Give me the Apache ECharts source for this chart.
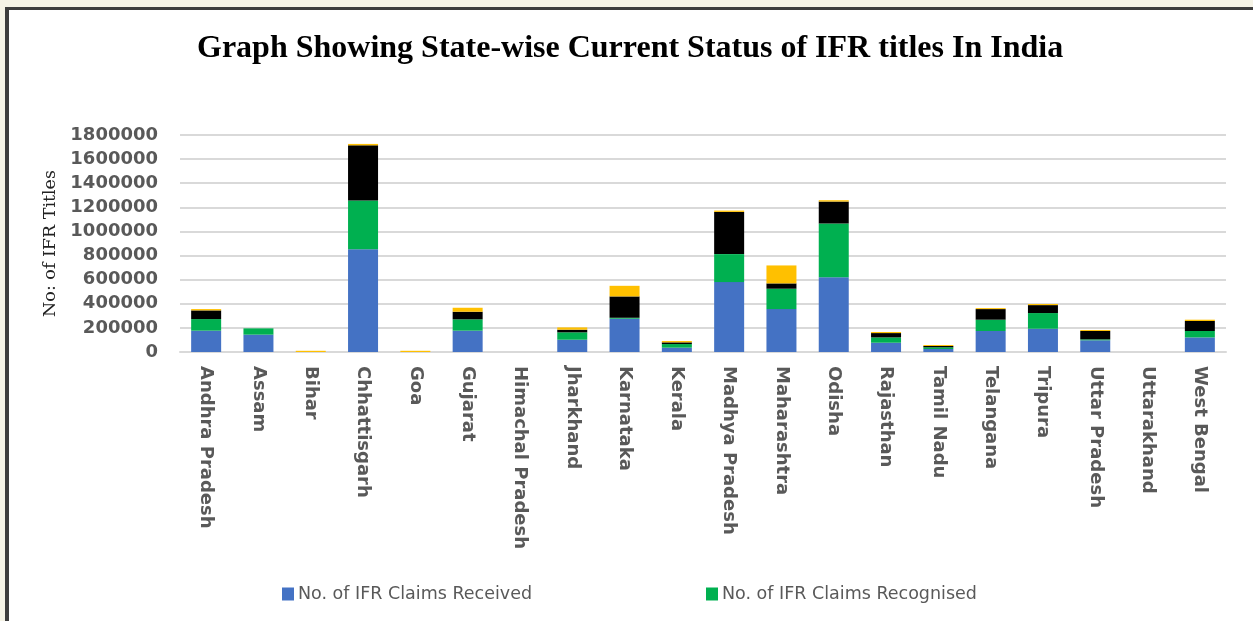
<!DOCTYPE html>
<html>
<head>
<meta charset="utf-8">
<script src="https://cdn.jsdelivr.net/npm/echarts@6/dist/echarts.min.js"></script>
<style>
  html, body { margin: 0; padding: 0; background: #f5f3e6; width: 1253px; height: 621px; overflow: hidden; }
  #frame { position: absolute; left: 5px; top: 7px; width: 1248px; height: 614px; background: #ffffff;
           border-left: 4px solid #3d3d3d; border-top: 3px solid #3d3d3d; box-sizing: border-box; }
  #chart { position: absolute; left: 0; top: 0; width: 1253px; height: 621px; }
</style>
</head>
<body>
<div id="frame"></div>
<div id="chart"></div>
<script>
const states = ["Andhra Pradesh", "Assam", "Bihar", "Chhattisgarh", "Goa", "Gujarat", "Himachal Pradesh",
  "Jharkhand", "Karnataka", "Kerala", "Madhya Pradesh", "Maharashtra", "Odisha", "Rajasthan",
  "Tamil Nadu", "Telangana", "Tripura", "Uttar Pradesh", "Uttarakhand", "West Bengal"];

const claimsReceived   = [177000, 144000, 0, 853000, 0, 177000, 0, 102000, 276000, 36000, 580000, 356000, 621000, 77000, 25000, 174000, 193000, 97000, 0, 121000];
const claimsRecognised = [96000, 52000, 0, 403000, 0, 94000, 0, 61000, 8000, 30000, 232000, 169000, 445000, 44000, 14000, 94000, 130000, 8000, 0, 53000];
const seriesBlack      = [72000, 0, 0, 458000, 0, 63000, 0, 22000, 177000, 14000, 350000, 44000, 182000, 36000, 11000, 88000, 66000, 69000, 0, 83000];
const seriesYellow     = [11000, 0, 10000, 12000, 10000, 33000, 0, 19000, 88000, 11000, 11000, 149000, 11000, 9000, 8000, 8000, 9000, 8000, 0, 11000];

const yTicks = { min: 0, max: 1800000, interval: 200000 };

const chart = echarts.init(document.getElementById('chart'));
const mk = (name, data, color) => ({
  name, type: 'bar', stack: 'total', data, barWidth: 30,
  itemStyle: { color }, emphasis: { disabled: true }
});
const legendText = { fontFamily: 'DejaVu Sans', fontSize: 17.5, color: '#595959', padding: [0, 0, 0, -1] };
chart.setOption({
  animation: false,
  backgroundColor: 'transparent',
  title: {
    text: 'Graph Showing State-wise Current Status of IFR titles In India',
    left: 192, top: 28,
    textStyle: { fontFamily: 'Liberation Serif', fontWeight: 'bold', fontSize: 32, color: '#000' }
  },
  legend: [
    { data: ['No. of IFR Claims Received'], left: 277, top: 580, icon: 'rect', itemWidth: 12, itemHeight: 13, itemGap: 4, textStyle: legendText },
    { data: ['No. of IFR Claims Recognised'], left: 701, top: 580, icon: 'rect', itemWidth: 12, itemHeight: 13, itemGap: 4, textStyle: legendText }
  ],
  grid: { left: 180, right: 27, top: 135, height: 217 },
  xAxis: {
    type: 'category', data: states,
    axisLine: { lineStyle: { color: '#d9d9d9', width: 2 } },
    axisTick: { show: false },
    axisLabel: { rotate: -90, interval: 0, margin: 14, fontFamily: 'DejaVu Sans', fontWeight: 'bold', fontSize: 18, color: '#595959' }
  },
  yAxis: {
    type: 'value', min: yTicks.min, max: yTicks.max, interval: yTicks.interval,
    name: 'No: of IFR Titles', nameLocation: 'middle', nameGap: 95, nameRotate: 90,
    nameTextStyle: { fontFamily: 'DejaVu Serif', fontSize: 17.5, color: '#222' },
    axisLine: { show: false }, axisTick: { show: false },
    splitLine: { lineStyle: { color: '#d9d9d9', width: 2 } },
    axisLabel: { margin: 22, fontFamily: 'DejaVu Sans', fontWeight: 'bold', fontSize: 18, color: '#595959',
                 formatter: v => String(v) }
  },
  series: [
    mk('No. of IFR Claims Received', claimsReceived, '#4472C4'),
    mk('No. of IFR Claims Recognised', claimsRecognised, '#00B050'),
    mk('No. of IFR Titles Distributed', seriesBlack, '#000000'),
    mk('No. of IFR Claims Rejected', seriesYellow, '#FFC000')
  ]
});
</script>
</body>
</html>
